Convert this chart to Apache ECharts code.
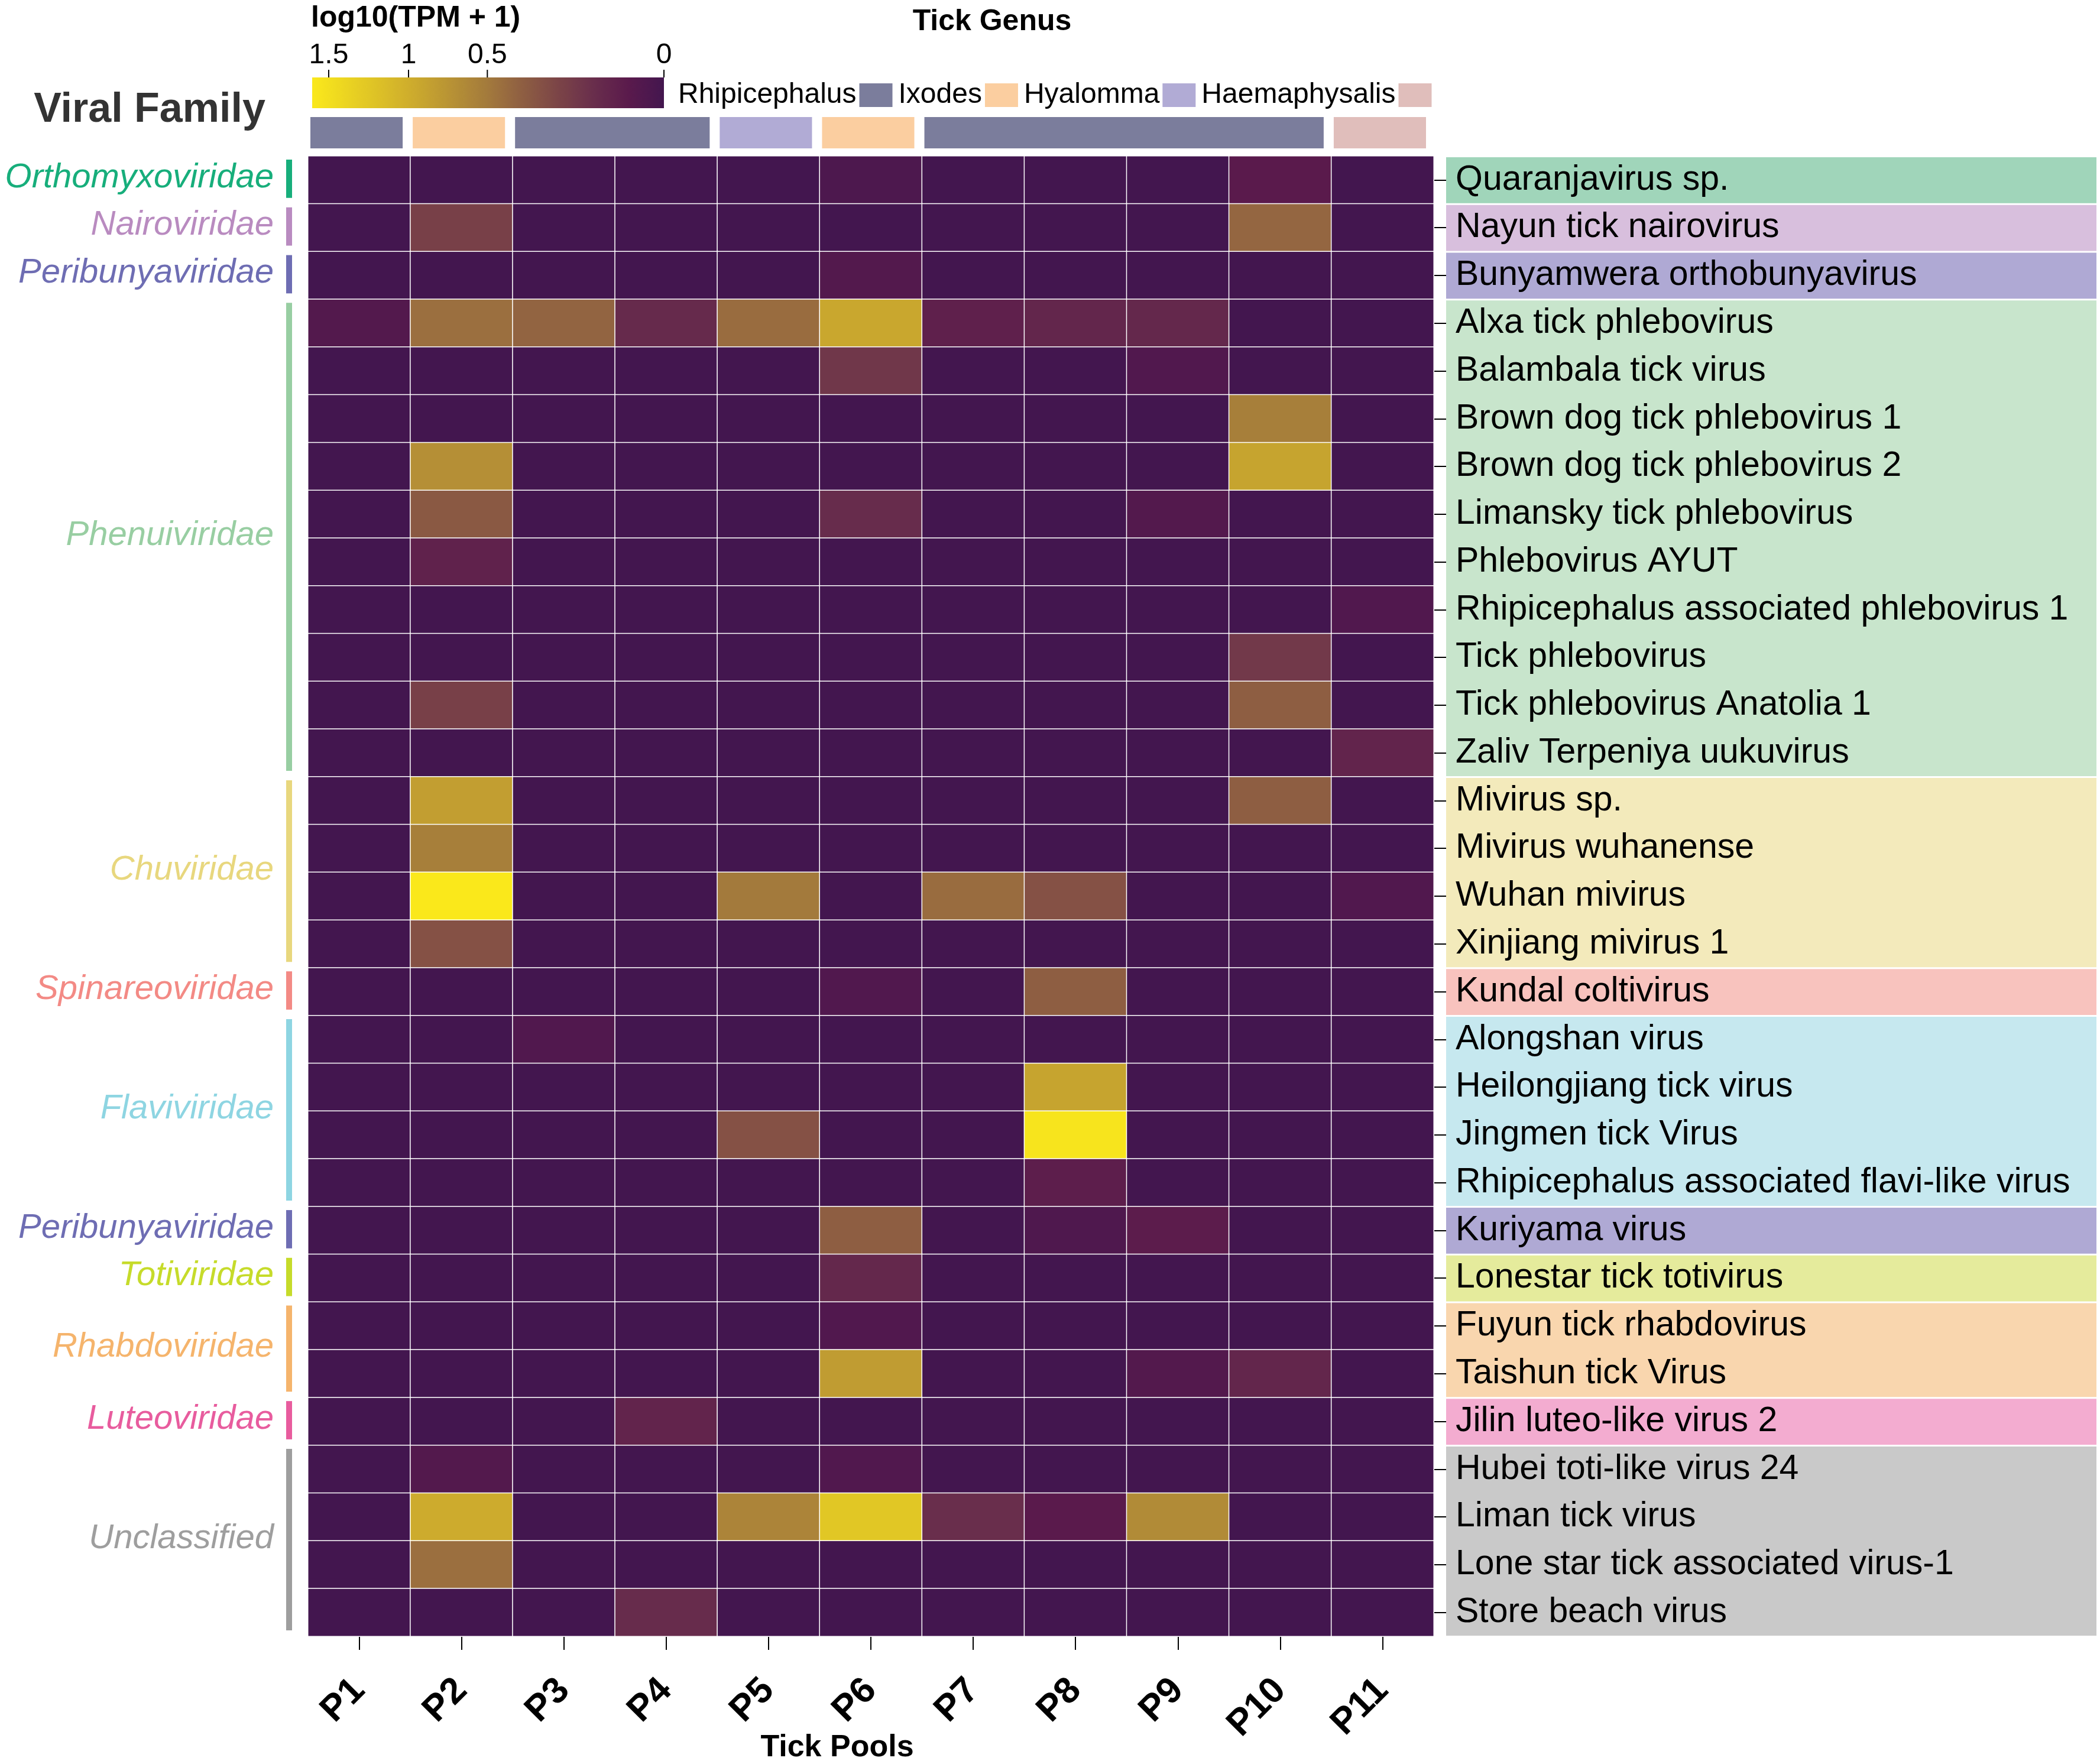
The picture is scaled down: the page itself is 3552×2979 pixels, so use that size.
<!DOCTYPE html>
<html>
<head>
<meta charset="utf-8">
<script src="https://cdn.jsdelivr.net/npm/echarts@6/dist/echarts.min.js"></script>
<style>
html,body{margin:0;padding:0;background:#fff;}
#chart{width:3552px;height:2979px;}
</style>
</head>
<body>
<div id="chart"></div>
<script>
// ---------------- DATA ----------------
const pools = ['P1','P2','P3','P4','P5','P6','P7','P8','P9','P10','P11'];

const viruses = [
  'Quaranjavirus sp.',
  'Nayun tick nairovirus',
  'Bunyamwera orthobunyavirus',
  'Alxa tick phlebovirus',
  'Balambala tick virus',
  'Brown dog tick phlebovirus 1',
  'Brown dog tick phlebovirus 2',
  'Limansky tick phlebovirus',
  'Phlebovirus AYUT',
  'Rhipicephalus associated phlebovirus 1',
  'Tick phlebovirus',
  'Tick phlebovirus Anatolia 1',
  'Zaliv Terpeniya uukuvirus',
  'Mivirus sp.',
  'Mivirus wuhanense',
  'Wuhan mivirus',
  'Xinjiang mivirus 1',
  'Kundal coltivirus',
  'Alongshan virus',
  'Heilongjiang tick virus',
  'Jingmen tick Virus',
  'Rhipicephalus associated flavi-like virus',
  'Kuriyama virus',
  'Lonestar tick totivirus',
  'Fuyun tick rhabdovirus',
  'Taishun tick Virus',
  'Jilin luteo-like virus 2',
  'Hubei toti-like virus 24',
  'Liman tick virus',
  'Lone star tick associated virus-1',
  'Store beach virus'
];

const virusFamily = [
  'Orthomyxoviridae','Nairoviridae','Peribunyaviridae',
  'Phenuiviridae','Phenuiviridae','Phenuiviridae','Phenuiviridae','Phenuiviridae',
  'Phenuiviridae','Phenuiviridae','Phenuiviridae','Phenuiviridae','Phenuiviridae',
  'Chuviridae','Chuviridae','Chuviridae','Chuviridae',
  'Spinareoviridae',
  'Flaviviridae','Flaviviridae','Flaviviridae','Flaviviridae',
  'Peribunyaviridae','Totiviridae','Rhabdoviridae','Rhabdoviridae','Luteoviridae',
  'Unclassified','Unclassified','Unclassified','Unclassified'
];

const genera = ['Rhipicephalus','Ixodes','Hyalomma','Haemaphysalis'];
const poolGenus = ['Rhipicephalus','Ixodes','Rhipicephalus','Rhipicephalus','Hyalomma','Ixodes',
  'Rhipicephalus','Rhipicephalus','Rhipicephalus','Rhipicephalus','Haemaphysalis'];

// log10(TPM + 1), rows = viruses, columns = P1..P11
const logTPM = [
  [0,0,0,0,0,0.04,0,0,0,0.10,0],
  [0,0.28,0,0,0,0,0,0,0,0.43,0],
  [0,0,0,0,0,0.07,0,0,0,0,0],
  [0.07,0.46,0.42,0.18,0.45,0.93,0.13,0.16,0.17,0,0],
  [0,0,0,0,0,0.24,0,0,0.06,0,0],
  [0,0,0,0,0,0,0,0,0,0.55,0],
  [0,0.70,0,0,0,0,0,0,0,0.90,0],
  [0,0.38,0,0,0,0.19,0,0,0.07,0,0],
  [0,0.14,0,0,0,0,0,0,0,0,0],
  [0,0,0,0,0,0,0,0,0,0,0.06],
  [0,0,0,0,0,0,0,0,0,0.25,0],
  [0,0.28,0,0,0,0,0,0,0,0.40,0],
  [0,0,0,0,0,0,0,0,0,0,0.15],
  [0,0.85,0,0,0,0,0,0,0,0.40,0],
  [0,0.55,0,0,0,0,0,0,0,0,0],
  [0,1.60,0,0,0.50,0,0.45,0.35,0,0,0.06],
  [0,0.35,0,0,0,0,0,0,0,0,0],
  [0,0,0,0,0,0.06,0,0.40,0,0,0],
  [0,0,0.06,0,0,0,0,0,0,0,0],
  [0,0,0,0,0,0,0,0.90,0,0,0],
  [0,0,0,0,0.35,0,0,1.55,0,0,0],
  [0,0,0,0,0,0,0,0.12,0,0,0],
  [0,0,0,0,0,0.40,0,0.05,0.11,0,0],
  [0,0,0,0,0,0.17,0,0,0,0,0],
  [0,0,0,0,0,0.06,0,0,0,0,0],
  [0,0,0,0,0,0.83,0,0,0.07,0.16,0],
  [0,0,0,0.15,0,0,0,0,0,0,0],
  [0,0.07,0,0,0,0.06,0,0,0,0,0],
  [0,0.97,0,0,0.60,1.25,0.20,0.10,0.66,0,0],
  [0,0.46,0,0,0,0,0,0,0,0,0],
  [0,0,0,0.19,0,0,0,0,0,0,0]
];

const legendTicks = [1.5, 1, 0.5, 0];

// ---------------- STYLES ----------------
const FONT = 'Liberation Sans, Arial, sans-serif';
const familyTextColor = {
  Orthomyxoviridae:'#17AE7B', Nairoviridae:'#B98BC0', Peribunyaviridae:'#6E6DB3',
  Phenuiviridae:'#98CEA2', Chuviridae:'#E8D77E', Spinareoviridae:'#F38A85',
  Flaviviridae:'#8ED5E2', Totiviridae:'#C6DB2A', Rhabdoviridae:'#F5B46C',
  Luteoviridae:'#E85C9E', Unclassified:'#9E9E9E'
};
const familyBandColor = {
  Orthomyxoviridae:'#A0D5BA', Nairoviridae:'#D8BFDD', Peribunyaviridae:'#AFA9D4',
  Phenuiviridae:'#C8E5CC', Chuviridae:'#F3EABB', Spinareoviridae:'#F8C3BE',
  Flaviviridae:'#C6E8EF', Totiviridae:'#E5EB9C', Rhabdoviridae:'#F9D6AE',
  Luteoviridae:'#F3ACD0', Unclassified:'#C9C9C9'
};
const genusColor = {Rhipicephalus:'#7B7D9C', Ixodes:'#FBCEA0', Hyalomma:'#B1ABD5', Haemaphysalis:'#E0BEBB'};

// colour ramp (value -> colour)
const rampStops = [
  [0,'#43164F'],[0.1,'#5A1A4C'],[0.2,'#692E4C'],[0.3,'#7B4447'],[0.4,'#8E5E42'],
  [0.5,'#A37A3C'],[1.0,'#CFAE2C'],[1.5,'#F3DF1E'],[1.6,'#FAE81B']
];
// position of a value along the colour bar (0 = dark end, 1 = yellow end)
const barAnchors = [[0,0],[0.5,0.502],[1,0.726],[1.5,0.953],[1.6,1]];

function hex2rgb(h){return [parseInt(h.slice(1,3),16),parseInt(h.slice(3,5),16),parseInt(h.slice(5,7),16)];}
function rgb2hex(c){return '#'+c.map(v=>Math.round(v).toString(16).padStart(2,'0')).join('');}
function ramp(v){
  for(let i=0;i<rampStops.length-1;i++){
    const [a,ca]=rampStops[i],[b,cb]=rampStops[i+1];
    if(v<=b){const t=(v-a)/(b-a);const A=hex2rgb(ca),B=hex2rgb(cb);
      return rgb2hex(A.map((x,k)=>x+(B[k]-x)*t));}
  }
  return rampStops[rampStops.length-1][1];
}
function barPos(v){
  for(let i=0;i<barAnchors.length-1;i++){
    const [a,pa]=barAnchors[i],[b,pb]=barAnchors[i+1];
    if(v<=b) return pa+(pb-pa)*(v-a)/(b-a);
  }
  return 1;
}

// ---------------- DERIVED ----------------
const heatData = [];
logTPM.forEach((row,i)=>row.forEach((v,j)=>heatData.push([j,i,v])));

const familyBlocks = [];
virusFamily.forEach((f,i)=>{
  const last = familyBlocks[familyBlocks.length-1];
  if(last && last.name===f && last.end===i-1) last.end=i;
  else familyBlocks.push({name:f,start:i,end:i});
});

const genusGroups = {};
genera.forEach(g=>genusGroups[g]=[]);
poolGenus.forEach((g,j)=>{
  const arr=genusGroups[g]; const last=arr[arr.length-1];
  if(last && last[1]===j-1) last[1]=j; else arr.push([j,j]);
});

// ---------------- LAYOUT ----------------
const HM = {left:521, top:264, width:1904, height:2504};
const BAR = {x:528, y:131, w:595, h:52};

const vmColors = [];
for(let k=0;k<=64;k++) vmColors.push(ramp(k*0.025));

const gradStops = [];
for(let k=64;k>=0;k--){ const v=k*0.025; gradStops.push({offset:1-barPos(v), color:ramp(v)}); }

const graphics = [
  {type:'text', x:526, y:6, style:{text:'log10(TPM + 1)', fill:'#000', font:'bold 50px '+FONT, textAlign:'left', textVerticalAlign:'top'}},
  {type:'text', x:1678, y:12, style:{text:'Tick Genus', fill:'#000', font:'bold 50px '+FONT, textAlign:'center', textVerticalAlign:'top'}},
  {type:'text', x:253, y:152, style:{text:'Viral Family', fill:'#333', font:'bold 70px '+FONT, textAlign:'center', textVerticalAlign:'top'}},
  {type:'text', x:1416, y:2957, style:{text:'Tick Pools', fill:'#000', font:'bold 52px '+FONT, textAlign:'center', textVerticalAlign:'middle'}},
  {type:'rect', shape:{x:BAR.x,y:BAR.y,width:BAR.w,height:BAR.h},
   style:{fill:{type:'linear',x:0,y:0,x2:1,y2:0,colorStops:gradStops}}}
];
legendTicks.forEach(t=>{
  const x = BAR.x + (1-barPos(t))*BAR.w;
  graphics.push({type:'line', shape:{x1:x,y1:118,x2:x,y2:BAR.y}, style:{stroke:'#000', lineWidth:2}});
  graphics.push({type:'text', x:x, y:118, style:{text:String(t), fill:'#000', font:'48px '+FONT, textAlign:'center', textVerticalAlign:'bottom'}});
});

// ---------------- OPTION ----------------
const series = [{
  type:'heatmap', xAxisIndex:0, yAxisIndex:0, data:heatData,
  itemStyle:{borderColor:'#fff', borderWidth:1.5},
  emphasis:{disabled:true}, progressive:0
}];

genera.forEach(g=>{
  series.push({
    type:'custom', name:g, xAxisIndex:1, yAxisIndex:1,
    itemStyle:{color:genusColor[g]},
    data:genusGroups[g],
    renderItem:function(params, api){
      const s=api.value(0), e=api.value(1);
      const band=api.size([1,0])[0];
      const x0=api.coord([s,0])[0]-band/2+4;
      const x1=api.coord([e,0])[0]+band/2-13;
      const yb=api.coord([s,0])[1], yt=api.coord([s,1])[1];
      return {type:'rect', shape:{x:x0,y:yt,width:x1-x0,height:yb-yt}, style:{fill:genusColor[g]}};
    }
  });
});

series.push({
  type:'custom', xAxisIndex:2, yAxisIndex:2, silent:true,
  data:familyBlocks.map(b=>[b.start,b.end]),
  renderItem:function(params, api){
    const b=familyBlocks[params.dataIndex];
    const h=api.size([0,1])[1];
    const yt=api.coord([0,b.start])[1]-h/2+2;
    const yb=api.coord([0,b.end])[1]+h/2-1;
    const x0=api.coord([0,b.start])[0], x1=api.coord([1,b.start])[0];
    return {type:'rect', shape:{x:x0,y:yt,width:x1-x0,height:yb-yt}, style:{fill:familyBandColor[b.name]}};
  }
});

series.push({
  type:'custom', xAxisIndex:3, yAxisIndex:3, silent:true,
  data:familyBlocks.map(b=>[b.start,b.end]),
  renderItem:function(params, api){
    const b=familyBlocks[params.dataIndex];
    const h=api.size([0,1])[1];
    const yt=api.coord([0,b.start])[1]-h/2;
    const yb=api.coord([0,b.end])[1]+h/2;
    const right=api.coord([1,b.start])[0];
    return {type:'group', children:[
      {type:'rect', shape:{x:right-37,y:yt+6,width:10,height:yb-yt-16}, style:{fill:familyTextColor[b.name]}},
      {type:'text', x:right-58, y:(yt+yb)/2-4, style:{text:b.name, fill:familyTextColor[b.name],
        font:'italic 58px '+FONT, textAlign:'right', textVerticalAlign:'middle'}}
    ]};
  }
});

const option = {
  animation:false,
  backgroundColor:'#fff',
  textStyle:{fontFamily:FONT},
  graphic:graphics,
  legend:{
    data:genera, left:1142, top:132, align:'right', icon:'rect',
    itemWidth:56, itemHeight:40, itemGap:10,
    textStyle:{fontSize:48, color:'#000', fontFamily:FONT},
    selectedMode:false
  },
  visualMap:{type:'continuous', min:0, max:1.6, show:false, seriesIndex:0, inRange:{color:vmColors}},
  grid:[
    {left:HM.left, top:HM.top, width:HM.width, height:HM.height},
    {left:HM.left, top:198, width:HM.width, height:53},
    {left:2446, top:HM.top, width:1100, height:HM.height},
    {left:0, top:HM.top, width:HM.left, height:HM.height}
  ],
  xAxis:[
    {type:'category', gridIndex:0, data:pools, position:'bottom',
     axisLine:{show:false}, splitLine:{show:false},
     axisTick:{show:true, alignWithLabel:true, length:23, interval:0, lineStyle:{color:'#000', width:2}},
     axisLabel:{interval:0, rotate:45, margin:82, fontSize:62, fontWeight:'bold', color:'#000', fontFamily:FONT}},
    {type:'category', gridIndex:1, data:pools, show:false},
    {type:'value', gridIndex:2, min:0, max:1, show:false},
    {type:'value', gridIndex:3, min:0, max:1, show:false}
  ],
  yAxis:[
    {type:'category', gridIndex:0, data:viruses, inverse:true, position:'right',
     axisLine:{show:false}, splitLine:{show:false},
     axisTick:{show:true, alignWithLabel:true, length:21, interval:0, lineStyle:{color:'#000', width:2}},
     axisLabel:{show:false}},
    {type:'value', gridIndex:1, min:0, max:1, show:false},
    {type:'category', gridIndex:2, data:viruses, inverse:true, position:'left', z:10,
     axisLine:{show:false}, axisTick:{show:false}, splitLine:{show:false},
     axisLabel:{inside:true, interval:0, margin:16, fontSize:59, color:'#000', fontFamily:FONT}},
    {type:'category', gridIndex:3, data:viruses, inverse:true, show:false}
  ],
  series:series
};

const chart = echarts.init(document.getElementById('chart'), null, {renderer:'canvas'});
chart.setOption(option);
</script>
</body>
</html>
